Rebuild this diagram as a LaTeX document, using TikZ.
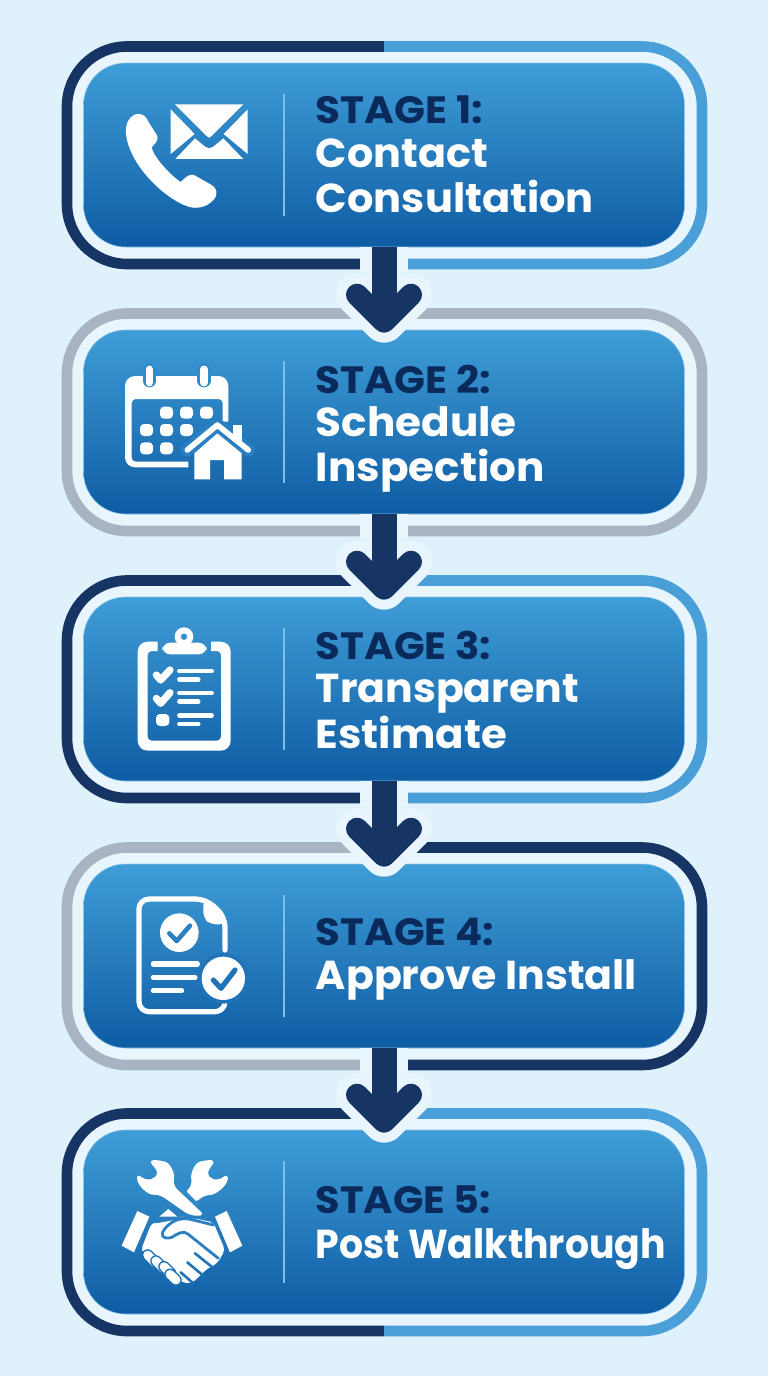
\documentclass[tikz,border=0pt]{standalone}
\usepackage{fontspec}
\usepackage{graphicx}
\usetikzlibrary{calc}
\newfontfamily\stagefont{Poppins}
\definecolor{bgc}{HTML}{DFF1FB}
\definecolor{haloc}{HTML}{E8F5FC}
\definecolor{navyc}{HTML}{163564}
\definecolor{skyc}{HTML}{4A9FD8}
\definecolor{grayc}{HTML}{A9B4C2}
\definecolor{cardtop}{HTML}{3F9DD7}
\definecolor{cardbot}{HTML}{0E5CA4}
\definecolor{cardedge}{HTML}{8CC8EC}
\definecolor{stagec}{HTML}{0A2A5C}
\definecolor{dividerc}{HTML}{7CC0E8}
\definecolor{iconb}{HTML}{2A80C2}
\definecolor{iconlow}{HTML}{2073B6}
\definecolor{iconhigh}{HTML}{2F8AC9}
\tikzset{
  card/.style={minimum width=300.5pt,minimum height=92pt,inner sep=0pt,rounded corners=21pt,
    top color=cardtop,bottom color=cardbot,draw=cardedge,line width=.3pt},
  ringline/.style={line width=5.3pt,rounded corners=30pt},
  stagetxt/.style={anchor=base west,inner sep=0pt,text=stagec,font=\stagefont\bfseries\fontsize{19}{21}\selectfont},
  titletxt/.style={anchor=base west,inner sep=0pt,text=white,font=\stagefont\bfseries\fontsize{20.2}{22}\selectfont},
  divline/.style={draw=dividerc,line width=1.2pt},
  shaftline/.style={draw=navyc,line width=12.5pt},
  headline/.style={draw=navyc,fill=navyc,line width=11pt,line cap=round,line join=round},
  halohead/.style={draw=haloc,line width=21pt,line cap=round,line join=round},
  halowide/.style={draw=haloc,line width=24pt},
  halonarrow/.style={draw=haloc,line width=15.5pt},
  iw/.style={fill=white},
  isw/.style={draw=white,line cap=round,line join=round},
  isb/.style={line cap=round,line join=round},
  zoomed/.style={scale=0.33333},
}
\newcommand{\stagecard}[4]{% name, dy, left ring, right ring
  \begin{scope}[shift={(0,#2)}]
    \fill[haloc,rounded corners=30pt] (67,46.5) rectangle (702,264);
    \begin{scope}\clip (40,20) rectangle (384,290);
      \draw[ringline,draw=#3] (67,46.5) rectangle (702,264);\end{scope}
    \begin{scope}\clip (384,20) rectangle (730,290);
      \draw[ringline,draw=#4] (67,46.5) rectangle (702,264);\end{scope}
    \node[card] (#1) at (384,155) {};
    \draw[divline] (284,93.5) -- (284,216);
  \end{scope}}
% style, name, baseline (px), width (pt), text
\newcommand{\cardtext}[5]{\node[#1] (#2) at (315.5,#3) {\resizebox{#4pt}{\height}{#5}};}
\newcommand{\flowarrow}[2]{%
  \draw[halowide] (#1.south) -- ($(#1.south)+(0,26)$);
  \draw[halonarrow] (#1.south) -- ($(#2.north)+(0,-15)$);
  \draw[halohead] ($(#2.north)+(-27,-35)$) -- ($(#2.north)+(0,-8)$) -- ($(#2.north)+(27,-35)$);
  \draw[shaftline] (#1.south) -- ($(#2.north)+(0,-15)$);
  \draw[headline] ($(#2.north)+(-27,-35)$) -- ($(#2.north)+(0,-8)$) -- ($(#2.north)+(27,-35)$);}
\begin{document}
\begin{tikzpicture}[x=0.5pt,y=-0.5pt]
\useasboundingbox (0,0) rectangle (768,1376);
\fill[bgc] (0,0) rectangle (768,1376);
\stagecard{c1}{0}{navyc}{skyc}
\stagecard{c2}{267}{grayc}{grayc}
\stagecard{c3}{534}{navyc}{skyc}
\stagecard{c4}{801}{grayc}{navyc}
\stagecard{c5}{1067}{navyc}{skyc}
\cardtext{stagetxt}{s1}{123}{83.5}{STAGE 1:}
\cardtext{titletxt}{t1a}{167.5}{86}{Contact}
\cardtext{titletxt}{t1b}{212.5}{139}{Consultation}
\cardtext{stagetxt}{s2}{393}{87.5}{STAGE 2:}
\cardtext{titletxt}{t2a}{436.5}{100.5}{Schedule}
\cardtext{titletxt}{t2b}{481}{114.5}{Inspection}
\cardtext{stagetxt}{s3}{659.5}{87.5}{STAGE 3:}
\cardtext{titletxt}{t3a}{702.5}{131.5}{Transparent}
\cardtext{titletxt}{t3b}{748}{95.5}{Estimate}
\cardtext{stagetxt}{s4}{945.5}{89}{STAGE 4:}
\cardtext{titletxt}{t4a}{989.5}{160.5}{Approve Install}
\cardtext{stagetxt}{s5}{1213.5}{87.5}{STAGE 5:}
\cardtext{titletxt}{t5a}{1258.5}{175}{Post Walkthrough}
\flowarrow{c1}{c2}
\flowarrow{c2}{c3}
\flowarrow{c3}{c4}
\flowarrow{c4}{c5}
% phone and envelope
\begin{scope}[shift={(50,30)},zoomed]
  \fill[iw] (228,310) .. controls (225,280) and (240,255) .. (262,252) .. controls (280,250) and (290,262) .. (295,275) -- (322,318) .. controls (328,332) and (310,345) .. (305,352) .. controls (310,380) and (360,435) .. (392,456) .. controls (405,445) and (415,430) .. (432,435) -- (485,465) .. controls (502,475) and (505,495) .. (490,510) .. controls (470,532) and (440,538) .. (415,530) .. controls (340,505) and (235,400) .. (228,310) -- cycle;
  \fill[iw] (375,223) -- (580,223) -- (485,318) -- (478,323) -- (470,318) -- cycle;
  \fill[iw] (362,238) -- (434,312) -- (362,372) -- cycle;
  \fill[iw] (593,238) -- (521,312) -- (593,372) -- cycle;
  \fill[iw] (376,387) -- (435,325) -- (465,350) -- (478,355) -- (490,350) -- (520,325) -- (580,387) -- cycle;
\end{scope}
% calendar and house
\begin{scope}[shift={(100,350)},zoomed]
  \fill[iw] (368,215) -- (385,215) [rounded corners=5pt] -- (385,78) -- (75,78) -- (75,352) [sharp corners] -- (265,352) -- (265,335) [rounded corners=2pt] -- (95,335) -- (95,147) -- (368,147) [sharp corners] -- cycle;
  \draw[isb,draw=iconhigh,line width=6.7pt] (148,60) -- (148,92);
  \draw[isb,draw=iconhigh,line width=6.7pt] (312,60) -- (312,92);
  \draw[isw,line width=3.8pt] (148,58) -- (148,98);
  \draw[isw,line width=3.8pt] (312,58) -- (312,98);
  \foreach \xx/\yy in {180/170,240/170,300/170,120/222,180/222,240/222,120/277,180/277}
    \fill[iw,rounded corners=2pt] (\xx,\yy) rectangle +(39,36);
  \draw[isb,draw=iconb,line width=6.5pt] (262,300) -- (352,225) -- (445,300);
  \fill[iw] (398,225) rectangle (425,275);
  \draw[isw,line width=2.8pt] (262,300) -- (352,225) -- (445,300);
  \fill[iw] (283,310) -- (352,250) -- (425,310) -- (425,388) -- (372,388) -- (372,330) -- (330,330) -- (330,388) -- (283,388) -- cycle;
\end{scope}
% clipboard
\begin{scope}[shift={(110,620)},zoomed]
  \fill[iw] (143,93) -- (143,65) [rounded corners=5pt] -- (83,65) -- (83,392) -- (362,392) -- (362,65) [sharp corners] -- (303,65) -- (303,93) [rounded corners=2pt] -- (333,93) -- (333,362) -- (113,362) -- (113,93) [sharp corners] -- cycle;
  \fill[iw,rounded corners=4pt] (157,68) rectangle (290,103);
  \fill[iw,even odd rule] (222,50) circle[radius=28] (222,50) circle[radius=10];
  \draw[isw,line width=3.6pt] (139,165) -- (152,180) -- (180,150);
  \draw[isw,line width=3.6pt] (139,235) -- (152,250) -- (180,218);
  \fill[iw,rounded corners=2pt] (138,282) rectangle (178,318);
  \foreach \yy/\xe in {153/305,179/265,219/305,245/265,286/305,312/265}
    \draw[isw,line width=2.2pt] (208,\yy) -- (\xe,\yy);
\end{scope}
% document with checks
\begin{scope}[shift={(110,885)},zoomed]
  \draw[isw,line width=2.6pt,rounded corners=5pt] (345,195) -- (345,95) -- (287,42) -- (87,42) -- (87,380) -- (345,380) -- (345,345);
  \fill[iw,rounded corners=3pt] (280,45) -- (345,105) -- (345,118) -- (300,118) -- (280,98) -- cycle;
  \fill[iw] (208,143) circle[radius=58];
  \draw[isb,draw=iconb,line width=2.3pt] (178,145) -- (200,168) -- (240,122);
  \foreach \yy/\xe in {237/262,277/255,317/215}
    \draw[isw,line width=2.6pt] (130,\yy) -- (\xe,\yy);
  \fill[iconlow] (340,280) circle[radius=76];
  \fill[iw] (340,280) circle[radius=65];
  \draw[isb,draw=iconlow,line width=2.6pt] (310,285) -- (333,310) -- (375,255);
\end{scope}
% wrenches
\begin{scope}[shift={(110,1145)},zoomed]
  \fill[iw,rounded corners=3pt] (318,45) -- (285,45) .. controls (255,55) and (240,85) .. (248,120) -- (222,145) -- (255,175) -- (282,150) .. controls (315,150) and (350,125) .. (356,85) -- (322,108) -- (302,100) -- (288,85) -- cycle;
  \fill[iconhigh] (165,125) -- (240,200) -- (265,175) -- (195,105) -- cycle;
  \fill[iw,rounded corners=3pt] (115,45) -- (150,45) .. controls (180,55) and (196,85) .. (188,120) -- (285,212) -- (240,212) -- (148,148) .. controls (115,150) and (85,125) .. (78,85) -- (112,108) -- (132,100) -- (148,85) -- cycle;
  \fill[iw] (148,215) -- (175,192) -- (202,215) -- cycle;
\end{scope}
% handshake
\begin{scope}[shift={(110,1175)},zoomed]
  \fill[iw] (82,108) -- (118,125) -- (72,232) -- (35,212) -- cycle;
  \fill[iw] (350,108) -- (315,125) -- (360,232) -- (397,212) -- cycle;
  \fill[iw,rounded corners=2pt] (125,143) .. controls (160,145) and (195,125) .. (230,125) -- (310,142) -- (345,225) -- (322,265) -- (290,282) -- (270,302) -- (245,325) -- (215,322) -- (190,302) -- (125,262) -- (93,225) -- cycle;
  \draw[isb,draw=iconb,line width=1.3pt] (128,140) .. controls (160,142) and (195,122) .. (285,128);
  \draw[isb,draw=iconb,line width=1.4pt] (310,150) -- (250,135) .. controls (215,125) and (190,135) .. (170,155) .. controls (145,180) and (160,195) .. (185,187) .. controls (205,175) and (220,165) .. (235,178) -- (325,250);
  \draw[isb,draw=iconlow,line width=1.3pt] (255,235) -- (305,275);
  \draw[isb,draw=iconlow,line width=1.3pt] (232,262) -- (280,302);
  \draw[isb,draw=iconlow,line width=1.3pt] (212,292) -- (250,325);
  \foreach \xa/\ya/\xb/\yb in {113/240/135/262,138/258/160/280,162/275/182/295,180/298/198/315}{
    \draw[isb,draw=iconlow,line width=5.8pt] (\xa,\ya) -- (\xb,\yb);
    \draw[isw,line width=4.4pt] (\xa,\ya) -- (\xb,\yb);
  }
\end{scope}
\end{tikzpicture}
\end{document}
